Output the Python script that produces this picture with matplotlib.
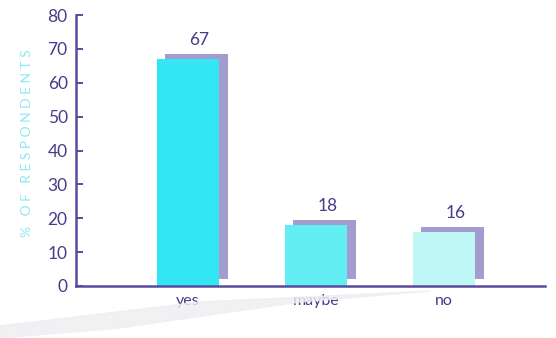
import numpy as np
import matplotlib.pyplot as plt
from matplotlib.patches import Polygon

categories = ['yes', 'maybe', 'no']
values = [67, 18, 16]
bar_colors = ['#33e6f3', '#62eef3', '#bff7f7']

TEXT = '#4a3a8a'
AXIS = '#5b4b9e'
SHADOW = '#a39ccf'

plt.rcParams['font.family'] = ['Lato', 'DejaVu Sans']

fig = plt.figure(figsize=(5.56, 3.38), dpi=100)

# soft grey swoosh under the baseline (figure pixels, top-left origin)
sw_px = [(0, 338), (0, 326), (200, 302), (430, 291), (300, 302), (120, 328)]
sw = Polygon([(px / 556, 1 - py / 338) for px, py in sw_px], closed=True,
             transform=fig.transFigure, color='#eeeef2', alpha=0.8, zorder=0)
fig.patches.append(sw)

ax = fig.add_axes([76 / 556, 1 - 286 / 338, 469 / 556, 271 / 338])
ax.patch.set_alpha(0)

x = np.arange(len(categories))
width = 0.49
# offset shadow behind each bar
ax.bar(x + 0.065, np.array(values) - 0.5, width=width, bottom=2,
       color=SHADOW, zorder=1)
ax.bar(x, values, width=width, color=bar_colors, zorder=2)

for xi, v in zip(x, values):
    ax.text(xi + 0.09, v + 3.3, str(v), ha='center', va='bottom',
            fontsize=12.5, color=TEXT)

ax.set_xlim(-0.875, 2.79)
ax.set_ylim(0, 80)
ax.set_yticks(range(0, 81, 10))
ax.set_xticks(x)
ax.set_xticklabels(categories)

for s in ['top', 'right']:
    ax.spines[s].set_visible(False)
for s in ['left', 'bottom']:
    ax.spines[s].set_color(AXIS)
    ax.spines[s].set_linewidth(1.8)

ax.tick_params(axis='y', direction='in', length=5, width=1.4, color=AXIS,
               labelcolor=TEXT, labelsize=12.5, pad=6)
ax.tick_params(axis='x', length=0, labelcolor=TEXT, labelsize=11.5, pad=6)

fig.text(27 / 556, 1 - 143 / 338, '%   O F   R E S P O N D E N T S',
         rotation=90, ha='center', va='center', color='#8ee9f1',
         fontsize=10)

fig.savefig('out.png', dpi=100)
